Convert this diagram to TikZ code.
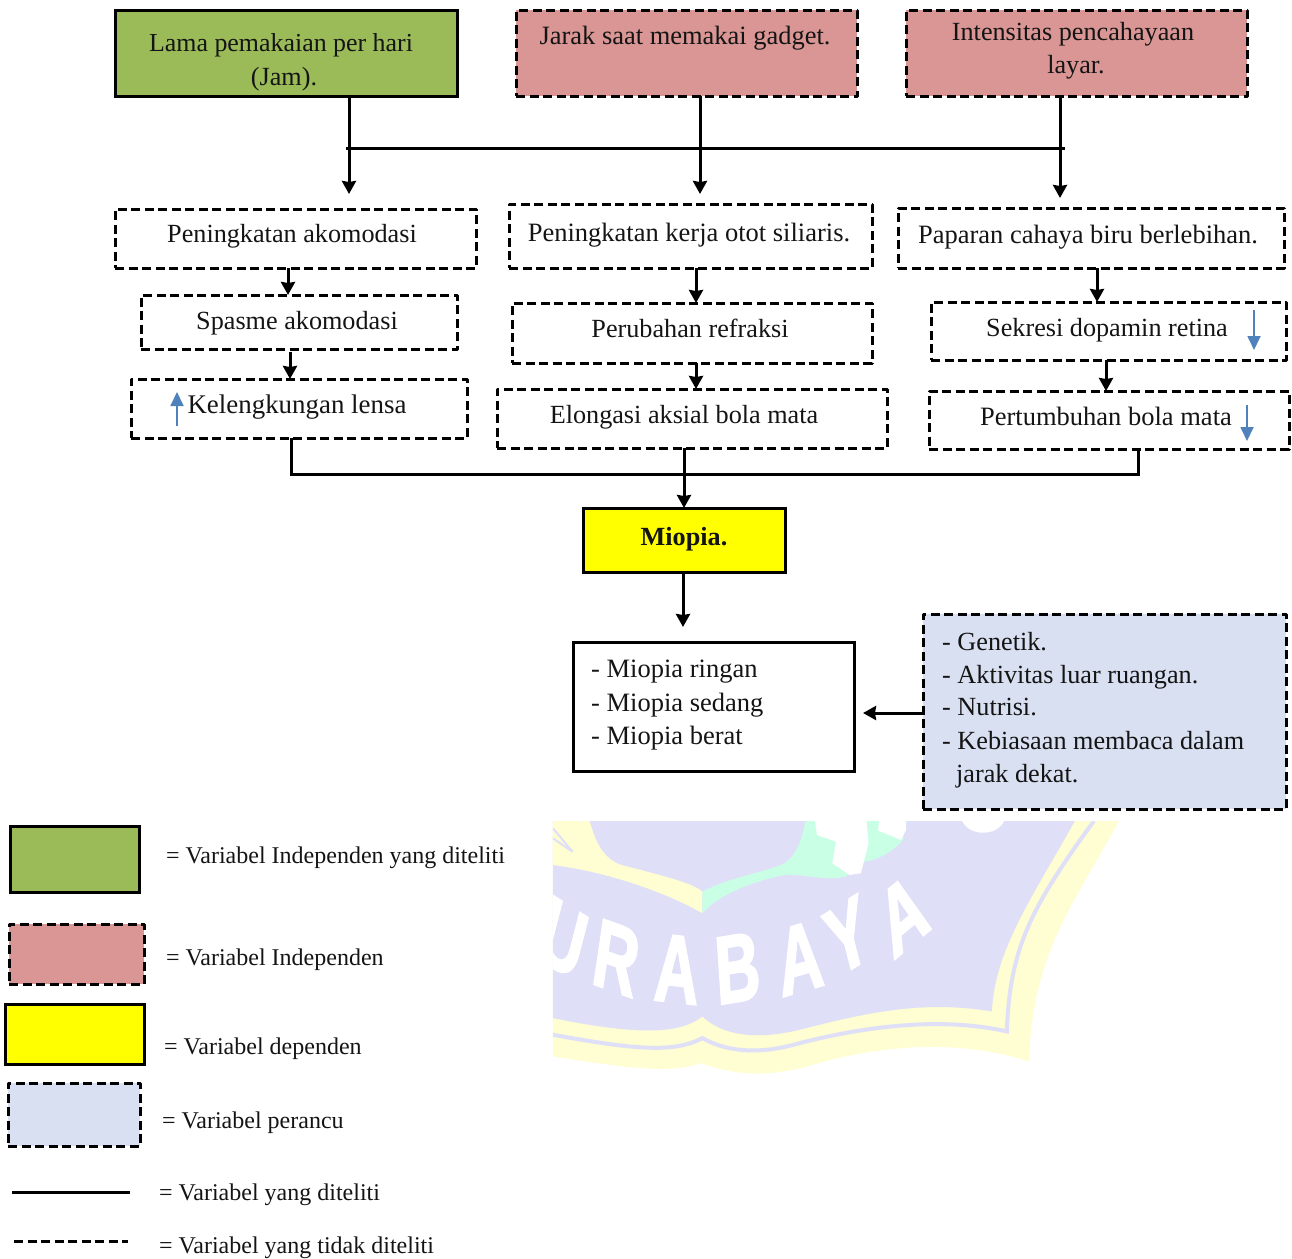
\documentclass[tikz,border=0pt]{standalone}
\usepackage{fontspec}
\setmainfont{Liberation Serif}
\newfontfamily\wmfont[BoldFeatures={FakeBold=2.5}]{Liberation Sans}
\usetikzlibrary{arrows.meta}
\definecolor{cgreen}{HTML}{9BBB59}
\definecolor{cred}{HTML}{D99694}
\definecolor{cblue}{HTML}{D9E0F1}
\definecolor{cyell}{HTML}{FFFF00}
\definecolor{carrow}{HTML}{4F81BD}
\definecolor{wlav}{HTML}{DFE0F8}
\definecolor{wyel}{HTML}{FFFDD2}
\definecolor{wmint}{HTML}{C9FFE5}
\tikzset{
  solidbox/.style={draw=black,line width=3pt,inner sep=0pt,outer sep=0pt},
  dashbox/.style={draw=black,line width=3pt,dash pattern=on 9pt off 4.5pt,inner sep=0pt,outer sep=0pt,line join=round},
  lbl/.style={anchor=base,inner sep=0pt,yshift=-.6pt,font=\fontsize{26.2}{30}\selectfont,text=black!92},
  fs/.style={font=\fontsize{#1}{30}\selectfont},
  lblleft/.style={lbl,anchor=base west},
  leg/.style={lbl,anchor=base west,font=\fontsize{24}{28}\selectfont},
  conn/.style={draw=black,line width=3pt},
  arr/.style={conn,-{Stealth[length=13pt,width=14pt,inset=1pt]}},
  bluearr/.style={draw=carrow,line width=1.8pt,-{Stealth[length=14pt,width=13pt,inset=0pt]}},
  wmletter/.style={text=white,inner sep=0pt,font=\wmfont\bfseries\fontsize{96}{96}\selectfont,xscale=.64}
}
\newcommand\bx[6]{%
  \pgfmathsetmacro\cxv{(#3+#5)/2}\pgfmathsetmacro\cyv{(#4+#6)/2}%
  \pgfmathsetmacro\wv{#5-#3}\pgfmathsetmacro\hv{#6-#4}%
  \node[#2,minimum width=\wv pt,minimum height=\hv pt] (#1) at (\cxv,\cyv) {};}
\begin{document}
\begin{tikzpicture}[x=1pt,y=-1pt]
\useasboundingbox (0,0) rectangle (1292,1258);

% watermark
\begin{scope}[shift={(540,810)},x=.382pt,y=-.333pt]
\clip (34,33) rectangle (1600,900);
\fill[wyel] (34,33) -- (1515,33) .. controls (1400,280) and (1290,420) .. (1280,755)
  .. controls (1100,690) and (900,700) .. (700,770) .. controls (600,800) and (520,800) .. (420,760)
  .. controls (350,790) and (250,780) .. (34,740) -- cycle;
\draw[wlav,line width=4pt] (1450,33) .. controls (1280,300) and (1230,420) .. (1222,665)
  .. controls (1050,620) and (850,650) .. (680,700) .. controls (560,740) and (480,720) .. (425,685)
  .. controls (350,730) and (250,720) .. (34,675);
\fill[wlav] (34,33) -- (1400,33) .. controls (1290,260) and (1190,420) .. (1183,605)
  .. controls (1000,570) and (850,610) .. (680,660) .. controls (570,690) and (480,680) .. (425,620)
  .. controls (370,670) and (270,680) .. (34,625) -- cycle;
\fill[wyel] (34,33) -- (130,33) .. controls (150,120) and (180,160) .. (230,170)
  .. controls (330,200) and (400,220) .. (425,245) -- (425,310)
  .. controls (350,260) and (200,190) .. (34,165) -- cycle;
\draw[wlav,line width=2pt] (34,55) -- (85,125);
\draw[wlav,line width=2pt] (34,85) -- (85,125);
\fill[wmint] (425,245) .. controls (500,200) and (600,185) .. (640,160)
  .. controls (680,130) and (690,60) .. (695,33) -- (960,33) -- (950,90)
  .. controls (920,130) and (880,150) .. (850,155) -- (800,200)
  .. controls (740,215) and (690,190) .. (640,195) .. controls (570,210) and (470,250) .. (425,310) -- cycle;
\fill[white] (720,33) -- (725,75) -- (775,95) -- (765,160) -- (810,195) -- (840,190) -- (860,100) -- (855,33) -- cycle;
\fill[white] (888,33) -- (885,62) -- (945,90) -- (958,60) -- (958,33) -- cycle;
\fill[white] (1105,33) .. controls (1125,80) and (1195,80) .. (1215,33) -- cycle;
\node[wmletter,rotate=-22] (wu) at (60,385) {U};
\node[wmletter,rotate=-13] (wr) at (200,445) {R};
\node[wmletter,rotate=-4] (wa) at (358,478) {A};
\node[wmletter,rotate=6] (wb) at (517,475) {B};
\node[wmletter,rotate=10.5] (wc) at (680,445) {A};
\node[wmletter,rotate=22] (wy) at (805,378) {Y};
\node[wmletter,rotate=28] (wd) at (950,315) {A};
\end{scope}

% boxes
\bx{a1}{solidbox,fill=cgreen}{115}{10}{457}{96}
\bx{a2}{dashbox,fill=cred}{516}{10}{857}{96}
\bx{a3}{dashbox,fill=cred}{906}{10}{1247}{96}
\bx{b1}{dashbox}{115}{209}{476}{268}
\bx{b2}{dashbox}{509}{204}{872}{268}
\bx{b3}{dashbox}{898}{208}{1284}{268}
\bx{c1}{dashbox}{141}{295}{457}{349}
\bx{c2}{dashbox}{512}{303}{872}{363}
\bx{c3}{dashbox}{931}{302}{1286}{360}
\bx{d1}{dashbox}{131}{379}{467}{438}
\bx{d2}{dashbox}{497}{389}{887}{448}
\bx{d3}{dashbox}{929}{391}{1289}{449}
\bx{mio}{solidbox,fill=cyell}{583}{508}{785}{572}
\bx{lev}{solidbox}{573}{642}{854}{771}
\bx{conf}{dashbox,fill=cblue}{923}{614}{1286}{809}
\bx{lg1}{solidbox,fill=cgreen}{10}{826}{139}{892}
\bx{lg2}{dashbox,fill=cred}{9}{924}{144}{984}
\bx{lg3}{solidbox,fill=cyell}{5}{1004}{144}{1064}
\bx{lg4}{dashbox,fill=cblue}{8}{1083}{140}{1146}

% box texts
\node[lbl,fs=25.9] (ta1) at (281,51) {Lama pemakaian per hari};
\node[lbl] (ta1b) at (284,85) {(Jam).};
\node[lbl,fs=26.45] (ta2) at (685,44) {Jarak saat memakai gadget.};
\node[lbl] (ta3) at (1073,40) {Intensitas pencahayaan};
\node[lbl] (ta3b) at (1076,73) {layar.};
\node[lbl] (tb1) at (292,242) {Peningkatan akomodasi};
\node[lbl,fs=26.5] (tb2) at (689,241) {Peningkatan kerja otot siliaris.};
\node[lbl,fs=26.5] (tb3) at (1088,243) {Paparan cahaya biru berlebihan.};
\node[lbl] (tc1) at (297,329) {Spasme akomodasi};
\node[lbl] (tc2) at (690,337) {Perubahan refraksi};
\node[lbl] (tc3) at (1107,336) {Sekresi dopamin retina};
\node[lbl,fs=26.9] (td1) at (297,413) {Kelengkungan lensa};
\node[lbl] (td2) at (684,423) {Elongasi aksial bola mata};
\node[lbl,fs=26.5] (td3) at (1106,425) {Pertumbuhan bola mata};
\node[lbl,font=\bfseries\fontsize{26.2}{30}\selectfont] (tm) at (684,545) {Miopia.};
\node[lblleft,fs=26.5] (tl1) at (591,677) {- Miopia ringan};
\node[lblleft,fs=26.5] (tl2) at (591,711) {- Miopia sedang};
\node[lblleft,fs=26.5] (tl3) at (591,744) {- Miopia berat};
\node[lblleft] (tk1) at (942,650) {- Genetik.};
\node[lblleft] (tk2) at (942,683) {- Aktivitas luar ruangan.};
\node[lblleft] (tk3) at (942,715) {- Nutrisi.};
\node[lblleft] (tk4) at (942,749) {- Kebiasaan membaca dalam};
\node[lblleft] (tk5) at (956,782) {jarak dekat.};

% legend
\node[leg] (g1) at (166,863) {= Variabel Independen yang diteliti};
\node[leg] (g2) at (166,965) {= Variabel Independen};
\node[leg] (g3) at (164,1054) {= Variabel dependen};
\node[leg] (g4) at (162,1128) {= Variabel perancu};
\node[leg] (g5) at (159,1200) {= Variabel yang diteliti};
\node[leg] (g6) at (159,1253) {= Variabel yang tidak diteliti};
\coordinate (s1) at (12,1192); \coordinate (s2) at (130,1192);
\coordinate (d1a) at (14,1241); \coordinate (d2a) at (128,1241);
\draw[conn] (s1) -- (s2);
\draw[conn,dash pattern=on 9pt off 4.5pt] (d1a) -- (d2a);

% blue arrows
\coordinate (u1) at (177,426); \coordinate (u2) at (177,392);
\coordinate (v1) at (1254,310); \coordinate (v2) at (1254,350);
\coordinate (w1) at (1247,405); \coordinate (w2) at (1247,441);
\draw[bluearr] (u1) -- (u2);
\draw[bluearr] (v1) -- (v2);
\draw[bluearr] (w1) -- (w2);

% connectors
\coordinate (e1) at (349,194);
\coordinate (e2) at (700,194);
\coordinate (e3) at (1060,198);
\coordinate (h1) at (346,148);
\coordinate (h2) at (1065,148);
\draw[arr] (a1.south -| e1) -- (e1);
\draw[arr] (a2.south -| e2) -- (e2);
\draw[arr] (a3.south -| e3) -- (e3);
\draw[conn] (h1) -- (h2);
\coordinate (x1) at (288,0);
\coordinate (x2) at (290,352);
\coordinate (x3) at (696,0);
\coordinate (x4) at (1097,0);
\coordinate (x5) at (1106,0);
\draw[arr] (b1.south -| x1) -- (c1.north -| x1);
\draw[arr] (x2) -- (d1.north -| x2);
\draw[arr] (b2.south -| x3) -- (c2.north -| x3);
\draw[arr] (c2.south -| x3) -- (d2.north -| x3);
\draw[arr] (b3.south -| x4) -- (c3.north -| x4);
\draw[arr] (c3.south -| x5) -- (d3.north -| x5);
\coordinate (j1) at (291,474);
\coordinate (j2) at (1138,474);
\draw[conn,line join=miter] (d1.south -| j1) -- (j1) -- (j2) -- (d3.south -| j2);
\coordinate (x6) at (684,0);
\draw[arr] (d2.south -| x6) -- (mio.north -| x6);
\coordinate (e4) at (683,627);
\draw[arr] (mio.south -| e4) -- (e4);
\coordinate (e5) at (863,713);
\draw[arr] (conf.west |- e5) -- (e5);
\end{tikzpicture}
\end{document}
